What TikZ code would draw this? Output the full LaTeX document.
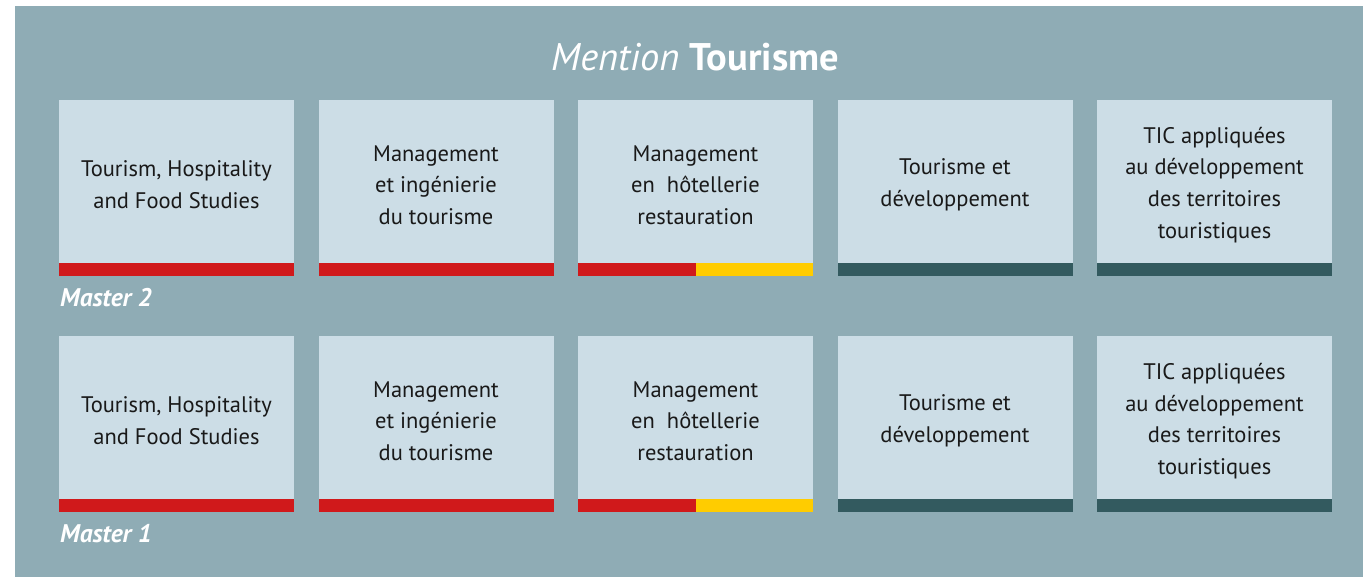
\documentclass[tikz,border=0pt]{standalone}
\usepackage{fontspec}
\setmainfont{PT Sans}
\definecolor{bgc}{HTML}{8FACB5}
\definecolor{boxc}{HTML}{CCDDE6}
\definecolor{redc}{HTML}{D0191B}
\definecolor{yelc}{HTML}{FFCC00}
\definecolor{tealc}{HTML}{335A5F}
\tikzset{
  cell/.style={fill=boxc, draw=none, minimum width=235pt, minimum height=163pt, anchor=north west, inner sep=0pt, outer sep=0pt},
  celltext/.style={align=center, font=\fontsize{22.5}{31.7}\selectfont, text=black!90, inner sep=0pt},
  barred/.style={fill=redc},
  baryel/.style={fill=yelc},
  barteal/.style={fill=tealc},
  lvl/.style={anchor=west, font=\fontsize{25.5}{28}\selectfont\bfseries\itshape, text=white, inner sep=0pt}
}
\newcommand{\mkrow}[2]{%
  % #1 = row name, #2 = top y
  \node[cell] (#1a) at (59,#2) {};
  \node[cell] (#1b) at (318.5,#2) {};
  \node[cell] (#1c) at (578,#2) {};
  \node[cell] (#1d) at (837.5,#2) {};
  \node[cell] (#1e) at (1097,#2) {};
  \node[celltext] (#1ta) at ([yshift=-3.5pt]#1a.center) {Tourism, Hospitality\\and Food Studies};
  \node[celltext] (#1tb) at ([yshift=-3.5pt]#1b.center) {Management\\et ingénierie\\du tourisme};
  \node[celltext] (#1tc) at ([yshift=-3.5pt]#1c.center) {Management\\en\ \ hôtellerie\\restauration};
  \node[celltext] (#1td) at ([yshift=-3.5pt]#1d.center) {Tourisme et\\développement};
  \node[celltext] (#1te) at ([yshift=-3.5pt]#1e.center) {TIC appliquées\\au développement\\des territoires\\touristiques};
  \fill[barred] (#1a.south west) rectangle ++(235,13);
  \fill[barred] (#1b.south west) rectangle ++(235,13);
  \fill[barred] (#1c.south west) rectangle ++(117.5,13);
  \fill[baryel] (#1c.south) rectangle ++(117.5,13);
  \fill[barteal] (#1d.south west) rectangle ++(235,13);
  \fill[barteal] (#1e.south west) rectangle ++(235,13);
}
\begin{document}
\begin{tikzpicture}[x=1pt,y=-1pt]
\useasboundingbox (0,0) rectangle (1363,577);
\fill[bgc] (15,6) rectangle (1363,577);
\node[text=white, inner sep=0pt, font=\fontsize{38.5}{42}\selectfont] (title) at (695,57) {\itshape Mention \upshape\bfseries Tourisme};
\mkrow{u}{100}
\mkrow{l}{336}
\node[lvl] (m2) at (60,298) {Master 2};
\node[lvl] (m1) at (60,534) {Master 1};
\end{tikzpicture}
\end{document}
